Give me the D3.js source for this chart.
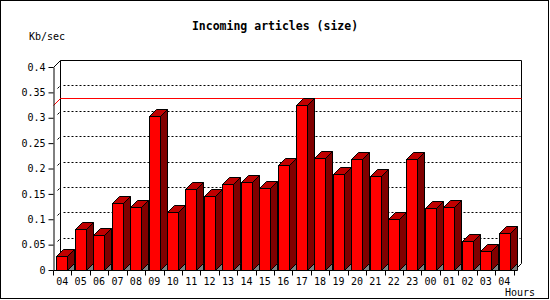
<!DOCTYPE html>
<html>
<head>
<meta charset="utf-8">
<script src="https://cdn.jsdelivr.net/npm/d3@7"></script>
<style>
  body { margin: 0; background: #fff; }
  text { font-family: "DejaVu Sans Mono", monospace; }
</style>
</head>
<body>
<div id="chart"></div>
<script>
// hourly incoming volume, Kb/sec
const hours = ['04','05','06','07','08','09','10','11','12','13','14','15','16',
  '17','18','19','20','21','22','23','00','01','02','03','04'];
const kbps = [0.027, 0.080, 0.069, 0.133, 0.125, 0.303, 0.114, 0.160, 0.146, 0.169,
  0.173, 0.161, 0.206, 0.325, 0.221, 0.190, 0.219, 0.185, 0.100, 0.219,
  0.122, 0.124, 0.057, 0.037, 0.072];
const yTicks = [0, 0.05, 0.1, 0.15, 0.2, 0.25, 0.3, 0.35, 0.4];

const W = 550, H = 300;
const depth = 7; // 3d offset
const plotL = 53, plotR = 513.5, plotB = 270, plotT = 67;

const svg = d3.select('#chart').append('svg')
  .attr('width', W).attr('height', H)
  .style('display', 'block');

svg.append('rect')
  .attr('x', 0.5).attr('y', 0.5)
  .attr('width', W - 2).attr('height', H - 2)
  .attr('fill', '#fff').attr('stroke', '#000');

const x = d3.scaleBand().domain(d3.range(hours.length)).range([plotL, plotR]);
const y = d3.scaleLinear().domain([0, 0.4]).range([plotB, plotT]);

const px = v => Math.round(v) + 0.5;

// back wall
const wall = svg.append('g');
wall.append('path')
  .attr('d', `M${px(plotL + depth)},${px(plotB - depth)}V${px(plotT - depth)}H${px(plotR + depth)}V${px(plotB - depth)}`)
  .attr('fill', 'none').attr('stroke', '#000');
wall.append('line')
  .attr('x1', px(plotL)).attr('y1', px(plotT))
  .attr('x2', px(plotL + depth)).attr('y2', px(plotT - depth))
  .attr('stroke', '#000');

wall.selectAll('line.grid')
  .data(yTicks.filter(d => d > 0 && d < 0.4))
  .join('line')
  .attr('class', 'grid')
  .attr('x1', px(plotL + depth) + 3).attr('x2', px(plotR + depth) - 1)
  .attr('y1', d => px(y(d) - depth)).attr('y2', d => px(y(d) - depth))
  .attr('stroke', '#000')
  .attr('stroke-dasharray', '2,2');

wall.selectAll('line.slant')
  .data(yTicks.filter(d => d > 0))
  .join('line')
  .attr('class', 'slant')
  .attr('x1', px(plotL + depth) - 3).attr('x2', px(plotL + depth) - 1)
  .attr('y1', d => px(y(d) - depth) + 3).attr('y2', d => px(y(d) - depth) + 1)
  .attr('stroke', '#000');

// max line
const maxV = d3.max(kbps);
wall.append('path')
  .attr('d', `M${px(plotL)},${px(y(maxV))}L${px(plotL + depth)},${px(y(maxV) - depth)}H${px(plotR + depth)}`)
  .attr('fill', 'none').attr('stroke', '#f00');

// floor edge
svg.append('path')
  .attr('d', `M${px(plotR)},${px(plotB)}L${px(plotR + depth)},${px(plotB - depth)}`)
  .attr('stroke', '#000');

// bars
const bw = 11;
const bars = svg.append('g').selectAll('g')
  .data(kbps)
  .join('g');

bars.each(function (d, i) {
  const g = d3.select(this);
  const x0 = Math.round(x(i) + 3.5) + 0.5;
  const x1 = x0 + bw;
  const yt = Math.round(y(d)) + 0.5;
  const yb = px(plotB);
  g.append('path') // shadow on floor
    .attr('d', `M${x1},${yb}L${x1 + depth},${yb - depth}V${yb}Z`)
    .attr('fill', '#808080').attr('stroke', '#000');
  g.append('path') // side
    .attr('d', `M${x1},${yt}L${x1 + depth},${yt - depth}V${yb - depth}L${x1},${yb}Z`)
    .attr('fill', '#800000').attr('stroke', '#000');
  g.append('path') // top
    .attr('d', `M${x0},${yt}L${x0 + depth},${yt - depth}H${x1 + depth}L${x1},${yt}Z`)
    .attr('fill', '#c00000').attr('stroke', '#000');
  g.append('rect') // front
    .attr('x', x0).attr('y', yt)
    .attr('width', bw).attr('height', yb - yt)
    .attr('fill', '#f00').attr('stroke', '#000');
});

// y axis
const yAxis = svg.append('g')
  .attr('transform', `translate(${px(plotL)},0)`)
  .call(d3.axisLeft(y).tickValues(yTicks).tickSize(5).tickSizeOuter(0)
    .tickFormat(d => String(+d.toFixed(2))));
yAxis.selectAll('text').style('font-size', '10px').attr('x', -8).attr('fill', '#000');

// x axis
const xAxis = svg.append('g')
  .attr('transform', `translate(0,${px(plotB)})`)
  .call(d3.axisBottom(x).tickSize(0).tickSizeOuter(0).tickFormat(i => hours[i]));
xAxis.selectAll('text').style('font-size', '10px').attr('dy', '0.71em').attr('y', 7).attr('fill', '#000');
xAxis.select('.domain').attr('d', `M${px(plotL)},0H${px(plotR)}`);
xAxis.selectAll('line.bnd')
  .data(d3.range(hours.length + 1))
  .join('line')
  .attr('class', 'bnd')
  .attr('x1', i => px(plotL + i * x.step())).attr('x2', i => px(plotL + i * x.step()))
  .attr('y1', 0).attr('y2', 5)
  .attr('stroke', '#000');

svg.append('text')
  .attr('x', 275).attr('y', 30)
  .attr('text-anchor', 'middle')
  .style('font-size', '11.5px').style('font-weight', 'bold')
  .text('Incoming articles (size)');

svg.append('text')
  .attr('x', 29).attr('y', 40)
  .style('font-size', '10px')
  .text('Kb/sec');

svg.append('text')
  .attr('x', 505).attr('y', 296)
  .style('font-size', '10px')
  .text('Hours');
</script>
</body>
</html>
